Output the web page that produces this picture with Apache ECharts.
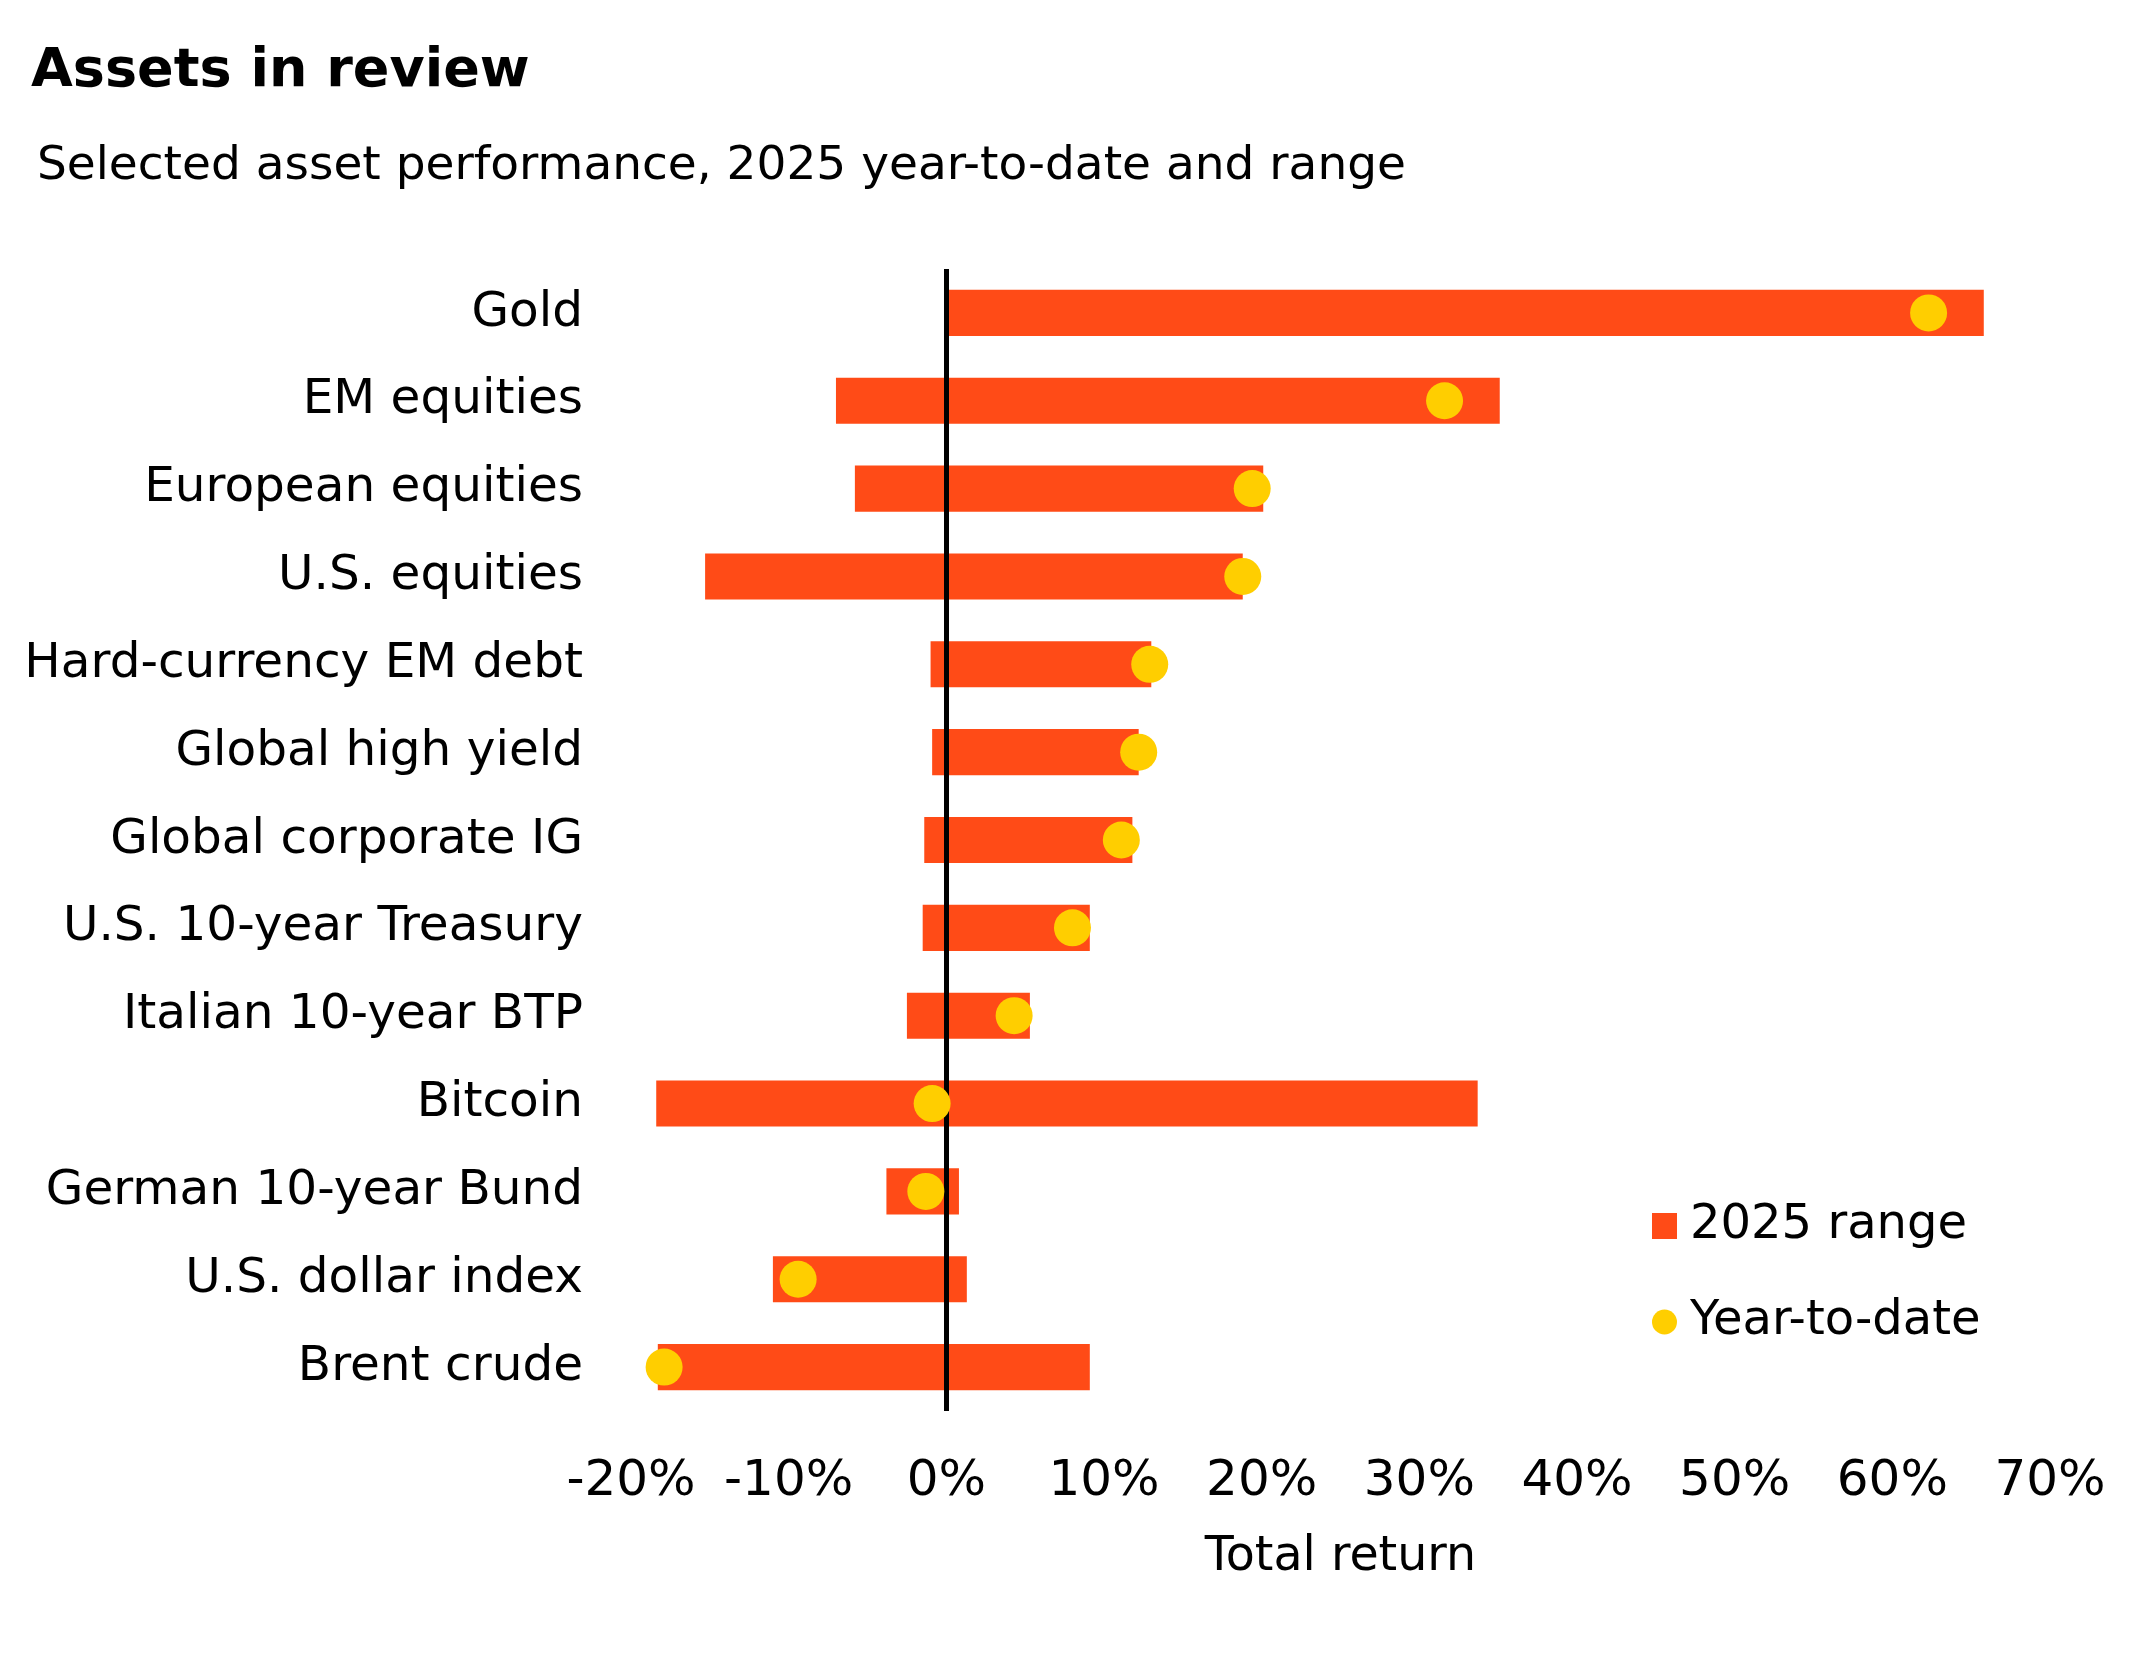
<!DOCTYPE html>
<html>
<head>
<meta charset="utf-8">
<script src="https://cdn.jsdelivr.net/npm/echarts@6/dist/echarts.min.js"></script>
<style>
  html, body { margin: 0; padding: 0; background: #ffffff; }
  #chart { width: 2150px; height: 1653px; }
</style>
</head>
<body>
<div id="chart"></div>
<script>
// ---- Data ----
var categories = [
  'Gold', 'EM equities', 'European equities', 'U.S. equities',
  'Hard-currency EM debt', 'Global high yield', 'Global corporate IG',
  'U.S. 10-year Treasury', 'Italian 10-year BTP', 'Bitcoin',
  'German 10-year Bund', 'U.S. dollar index', 'Brent crude'
];
var rangeLow  = [0.0, -7.0, -5.8, -15.3, -1.0, -0.9, -1.4, -1.5, -2.5, -18.4, -3.8, -11.0, -18.3];
var rangeHigh = [65.8, 35.1, 20.1, 18.8, 13.0, 12.2, 11.8, 9.1, 5.3, 33.7, 0.8, 1.3, 9.1];
var ytd       = [62.3, 31.6, 19.4, 18.8, 12.9, 12.2, 11.1, 8.0, 4.3, -0.9, -1.3, -9.4, -17.9];
var xTicks = { min: -20, max: 70, interval: 10 };

var RANGE_COLOR = '#FF4B17';
var YTD_COLOR = '#FFCE00';
var FONT = 'DejaVu Sans';

var rangeData = categories.map(function (c, i) { return [i, rangeLow[i], rangeHigh[i]]; });
var ytdData = categories.map(function (c, i) { return [ytd[i], c]; });

var chart = echarts.init(document.getElementById('chart'), null, { renderer: 'canvas' });
chart.setOption({
  animation: false,
  backgroundColor: '#ffffff',
  title: [
    { text: 'Assets in review', left: 26, top: 40,
      textStyle: { fontFamily: FONT, fontSize: 54, fontWeight: 'bold', color: '#000' } },
    { text: 'Selected asset performance, 2025 year-to-date and range', left: 32, top: 138,
      textStyle: { fontFamily: FONT, fontSize: 47, fontWeight: 'normal', color: '#000' } }
  ],
  legend: {
    orient: 'vertical',
    left: 1647, top: 1196,
    itemWidth: 25, itemHeight: 26, itemGap: 46,
    textStyle: { fontFamily: FONT, fontSize: 48, color: '#000', lineHeight: 50, padding: [0, 0, 0, 8] },
    data: [
      { name: '2025 range', icon: 'rect' },
      { name: 'Year-to-date', icon: 'circle' }
    ]
  },
  grid: { left: 631, right: 100, top: 269, bottom: 242, containLabel: false },
  xAxis: {
    type: 'value',
    min: xTicks.min, max: xTicks.max, interval: xTicks.interval,
    axisLine: { show: false }, axisTick: { show: false }, splitLine: { show: false },
    axisLabel: { formatter: '{value}%', fontFamily: FONT, fontSize: 50, color: '#000', margin: 46 },
    name: 'Total return', nameLocation: 'middle', nameGap: 123,
    nameTextStyle: { fontFamily: FONT, fontSize: 47.5, color: '#000' }
  },
  yAxis: {
    type: 'category',
    data: categories,
    inverse: true,
    axisLine: { show: false }, axisTick: { show: false }, splitLine: { show: false },
    axisLabel: { fontFamily: FONT, fontSize: 48.5, color: '#000', margin: 48, padding: [5, 0, 0, 0] }
  },
  series: [
    {
      name: '2025 range',
      type: 'custom',
      z: 2,
      itemStyle: { color: RANGE_COLOR },
      encode: { y: 0, x: [1, 2] },
      data: rangeData,
      renderItem: function (params, api) {
        var cat = api.value(0);
        var p1 = api.coord([api.value(1), cat]);
        var p2 = api.coord([api.value(2), cat]);
        var h = api.size([0, 1])[1] * 0.525;
        return {
          type: 'rect',
          shape: { x: p1[0], y: p1[1] - h / 2, width: p2[0] - p1[0], height: h },
          style: { fill: RANGE_COLOR }
        };
      }
    },
    {
      name: 'Year-to-date',
      type: 'scatter',
      z: 10,
      symbol: 'circle',
      symbolSize: 37,
      itemStyle: { color: YTD_COLOR, opacity: 1 },
      data: ytdData,
      markLine: {
        silent: true,
        z: 5,
        symbol: 'none',
        label: { show: false },
        lineStyle: { color: '#000', width: 5, type: 'solid' },
        data: [{ xAxis: 0 }]
      }
    }
  ]
});
</script>
</body>
</html>
